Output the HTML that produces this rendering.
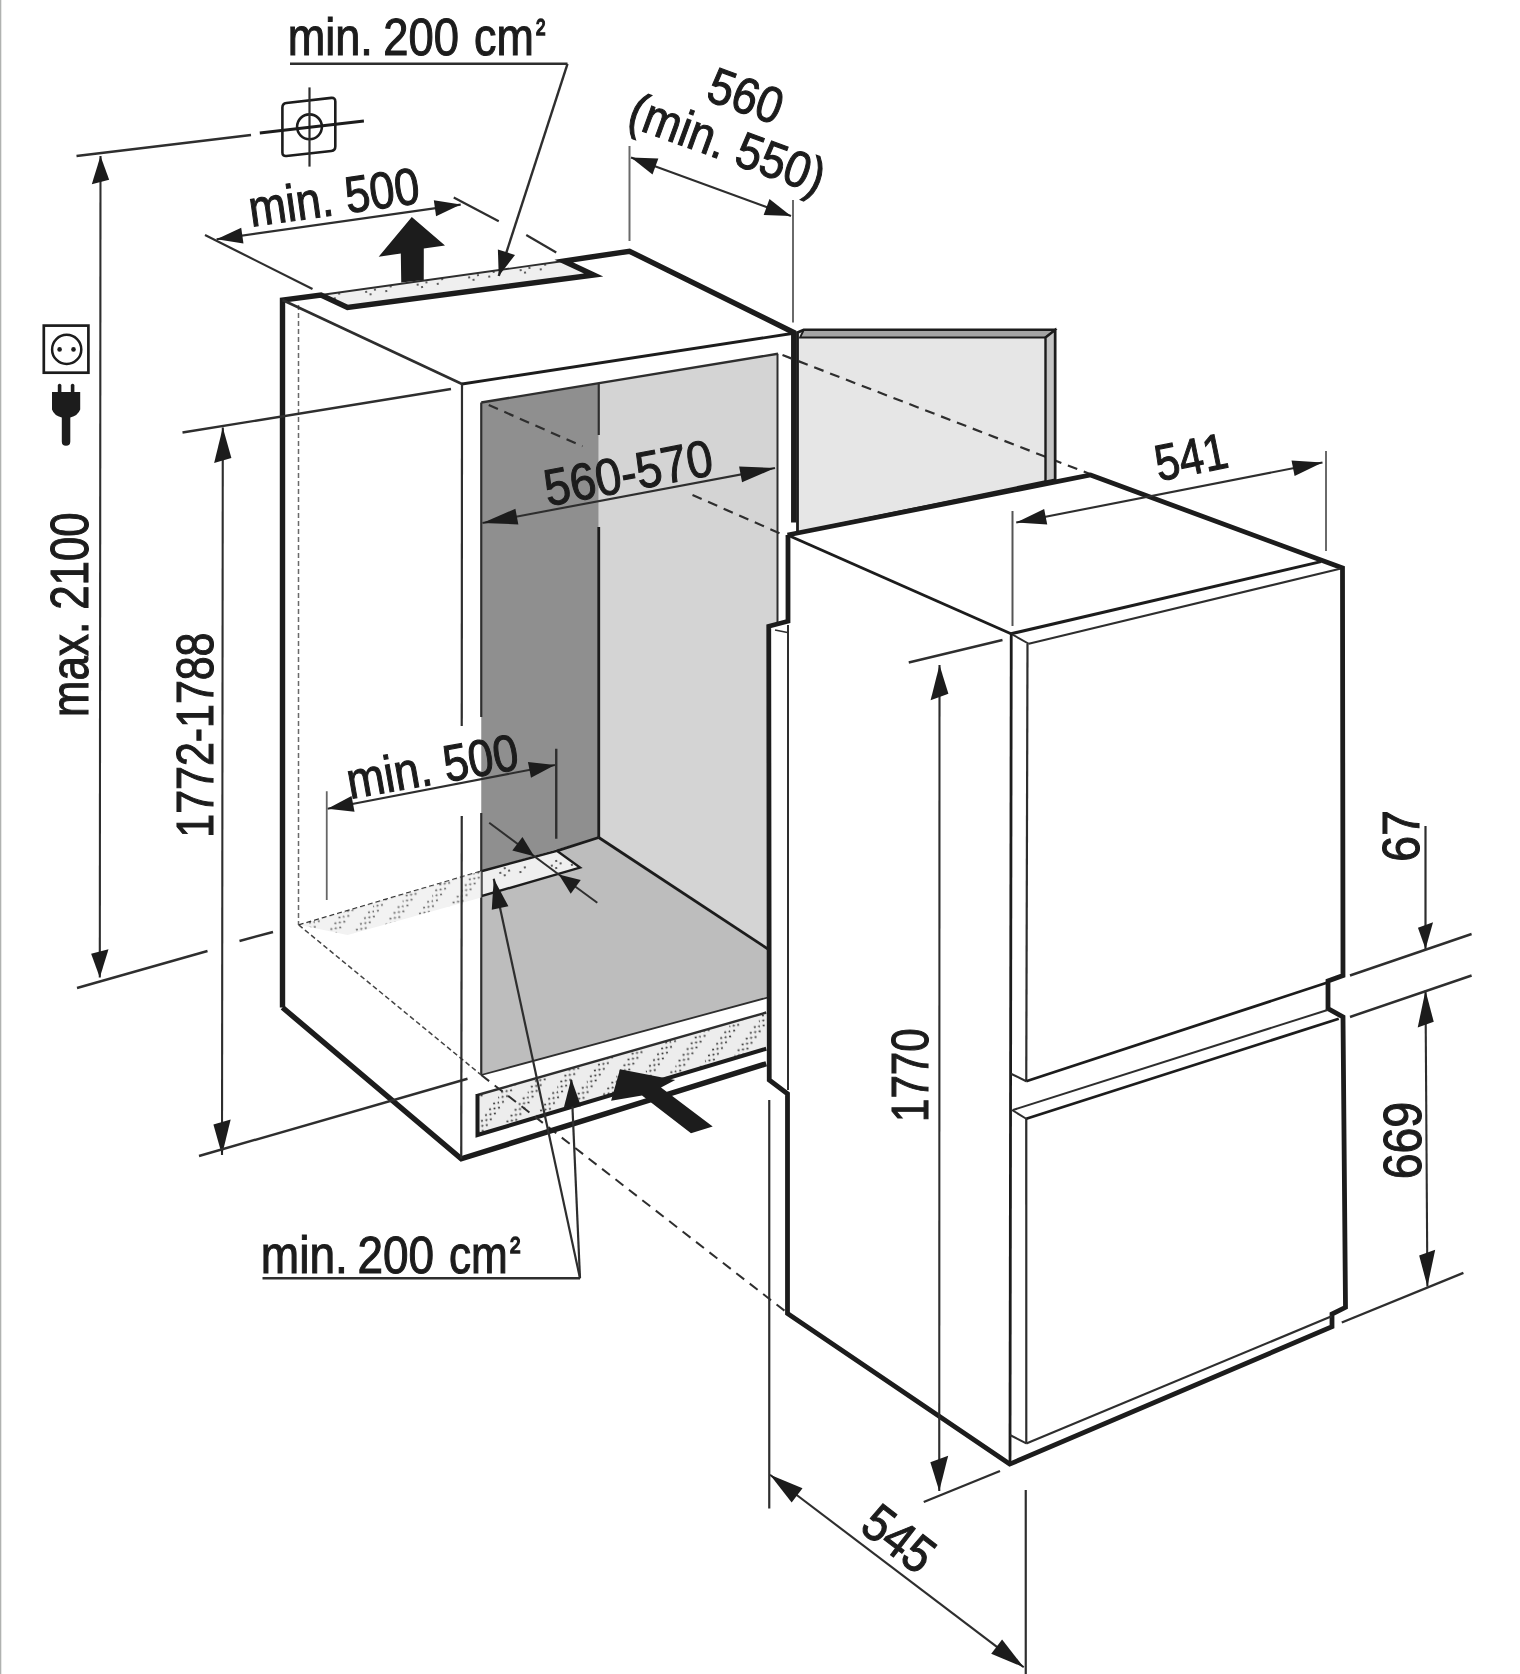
<!DOCTYPE html>
<html><head><meta charset="utf-8"><style>
html,body{margin:0;padding:0;background:#fff;}
svg{display:block;will-change:transform;}
text{font-family:"Liberation Sans",sans-serif;fill:#1c1c1c;}
</style></head><body>
<svg width="1520" height="1674" viewBox="0 0 1520 1674">
<rect x="0" y="0" width="1.3" height="1674" fill="#b0b2b0"/>
<defs><pattern id="dots" patternUnits="userSpaceOnUse" width="30" height="30" patternTransform="rotate(-10)"><rect width="30" height="30" fill="#ededed"/><g fill="#3a3a3a"><circle cx="0" cy="27.5" r="1.05"/><circle cx="5" cy="22.5" r="1.05"/><circle cx="10" cy="17.5" r="1.05"/><circle cx="15" cy="12.5" r="1.05"/><circle cx="20" cy="7.5" r="1.05"/><circle cx="25" cy="2.5" r="1.05"/><circle cx="4.5" cy="27.5" r="1.05"/><circle cx="9.5" cy="22.5" r="1.05"/><circle cx="14.5" cy="17.5" r="1.05"/><circle cx="19.5" cy="12.5" r="1.05"/><circle cx="24.5" cy="7.5" r="1.05"/><circle cx="29.5" cy="2.5" r="1.05"/><circle cx="9" cy="27.5" r="1.05"/><circle cx="14" cy="22.5" r="1.05"/><circle cx="19" cy="17.5" r="1.05"/><circle cx="24" cy="12.5" r="1.05"/><circle cx="29" cy="7.5" r="1.05"/><circle cx="4" cy="2.5" r="1.05"/></g></pattern><pattern id="dots2" patternUnits="userSpaceOnUse" width="52" height="22" patternTransform="rotate(-8)"><rect width="52" height="22" fill="#efefef"/><g fill="#3a3a3a"><circle cx="10" cy="10" r="1.1"/><circle cx="15" cy="6" r="1.1"/><circle cx="14" cy="13" r="1.1"/><circle cx="19" cy="9" r="1.1"/><circle cx="30" cy="12" r="1.1"/><circle cx="35" cy="8" r="1.1"/></g></pattern></defs>
<polygon points="481.25,402.5 598.75,383.75 598.75,837.5 481.25,871.25" fill="#8f8f8f" stroke="none" stroke-width="0" stroke-linejoin="miter"/>
<polygon points="598.75,383.75 777.5,353.75 777.5,960 598.75,837.5" fill="#d4d4d4" stroke="none" stroke-width="0" stroke-linejoin="miter"/>
<polygon points="481.25,871.25 598.75,837.5 777.5,955 777.5,995 481.25,1075" fill="#bdbdbd" stroke="none" stroke-width="0" stroke-linejoin="miter"/>
<polygon points="481.25,871.25 556.9,850.8 580,867.6 481.25,896.2" fill="url(#dots2)" stroke="#1c1c1c" stroke-width="2.4" stroke-linejoin="miter"/>
<line x1="598.75" y1="383.75" x2="598.75" y2="435" stroke="#2e2e2e" stroke-width="2.2" stroke-linecap="butt"/>
<line x1="598.75" y1="527" x2="598.75" y2="837.5" stroke="#1c1c1c" stroke-width="2.8" stroke-linecap="butt"/>
<line x1="598.75" y1="837.5" x2="777" y2="955" stroke="#1c1c1c" stroke-width="2.8" stroke-linecap="butt"/>
<line x1="556.9" y1="850.8" x2="598.75" y2="837.5" stroke="#1c1c1c" stroke-width="2.8" stroke-linecap="butt"/>
<line x1="481.25" y1="1075" x2="777" y2="995" stroke="#2e2e2e" stroke-width="1.8" stroke-linecap="butt"/>
<line x1="481.25" y1="402.5" x2="778" y2="353.75" stroke="#2e2e2e" stroke-width="2.4" stroke-linecap="butt"/>
<line x1="481.25" y1="402.5" x2="481.25" y2="717" stroke="#2e2e2e" stroke-width="2.2" stroke-linecap="butt"/>
<line x1="481.25" y1="813" x2="481.25" y2="1075" stroke="#2e2e2e" stroke-width="2.2" stroke-linecap="butt"/>
<line x1="777.5" y1="353.75" x2="777.5" y2="626" stroke="#2e2e2e" stroke-width="2" stroke-linecap="butt"/>
<line x1="298.5" y1="305" x2="298.5" y2="925" stroke="#6a6a6a" stroke-width="1.5" stroke-linecap="butt" stroke-dasharray="5 3"/>
<line x1="298.75" y1="925" x2="481.25" y2="871.25" stroke="#2e2e2e" stroke-width="1.6" stroke-linecap="butt" stroke-dasharray="5 3"/>
<polygon points="300,925 481.25,871.25 481.25,897.5 347.5,935" fill="url(#dots)" stroke="none" stroke-width="0" stroke-linejoin="miter" fill-opacity="0.75"/>
<line x1="488.75" y1="405" x2="582.5" y2="446.25" stroke="#2e2e2e" stroke-width="2.2" stroke-linecap="butt" stroke-dasharray="10 7"/>
<line x1="692.5" y1="495" x2="786" y2="536" stroke="#2e2e2e" stroke-width="2.2" stroke-linecap="butt" stroke-dasharray="10 7"/>
<polygon points="466,1095 477.5,1095 766.25,1012.5 766.25,1048.75 477.5,1135" fill="none" stroke="none" stroke-width="0" stroke-linejoin="miter"/>
<polygon points="477.5,1095 766.25,1012.5 766.25,1048.75 477.5,1135" fill="url(#dots)" stroke="none" stroke-width="0" stroke-linejoin="miter"/>
<line x1="766.25" y1="1012.5" x2="477.5" y2="1095" stroke="#2e2e2e" stroke-width="2.4" stroke-linecap="butt"/>
<polyline points="477.5,1094 477.5,1135 766.25,1048.75" fill="none" stroke="#1c1c1c" stroke-width="4" stroke-linejoin="miter" stroke-linecap="butt"/>
<line x1="298.75" y1="925" x2="481.25" y2="1075" stroke="#444" stroke-width="1.5" stroke-linecap="butt" stroke-dasharray="5 3"/>
<line x1="481.25" y1="1075" x2="787.5" y2="1313" stroke="#2e2e2e" stroke-width="2" stroke-linecap="butt" stroke-dasharray="10 7"/>
<polygon points="321,295 563.75,261 593.75,275 347.5,307.5" fill="url(#dots2)" stroke="none" stroke-width="0" stroke-linejoin="miter"/>
<line x1="321" y1="295" x2="563.75" y2="261" stroke="#2e2e2e" stroke-width="1.8" stroke-linecap="butt"/>
<polyline points="282.5,1007.5 282.5,300 321,295 347.5,307.5 593.75,275 563.75,261 629.5,251.25 793.75,332.5 793.75,522.5" fill="none" stroke="#1c1c1c" stroke-width="5.4" stroke-linejoin="miter" stroke-linecap="butt"/>
<polyline points="282.5,1007.5 461.25,1158.75 766.25,1063.75" fill="none" stroke="#1c1c1c" stroke-width="5.4" stroke-linejoin="miter" stroke-linecap="butt"/>
<line x1="282.5" y1="300" x2="462" y2="384" stroke="#2e2e2e" stroke-width="2.6" stroke-linecap="butt"/>
<line x1="462" y1="384" x2="792" y2="333.5" stroke="#1c1c1c" stroke-width="2.8" stroke-linecap="butt"/>
<line x1="462" y1="384" x2="461.75" y2="726" stroke="#2e2e2e" stroke-width="2.2" stroke-linecap="butt"/>
<line x1="461.75" y1="816" x2="461.25" y2="1158.75" stroke="#2e2e2e" stroke-width="2.2" stroke-linecap="butt"/>
<polygon points="797.5,332.5 803.75,330 1055,330 1055,479.7 797.5,533" fill="#e6e6e6" stroke="#1c1c1c" stroke-width="2.8" stroke-linejoin="miter"/>
<line x1="782.5" y1="355" x2="1090" y2="474" stroke="#2e2e2e" stroke-width="2.2" stroke-linecap="butt" stroke-dasharray="10 7"/>
<polygon points="803.75,330 1055,330 1045.5,337.5 800,337.5" fill="#a4a4a4" stroke="#1c1c1c" stroke-width="1.8" stroke-linejoin="miter"/>
<polygon points="1045.5,337.5 1055,330 1055,479.7 1045.5,481.6" fill="#c4c4c4" stroke="#1c1c1c" stroke-width="2.4" stroke-linejoin="miter"/>
<polygon points="787.5,535 1090.5,475 1342.5,568 1343,975.5 1328,981 1328,1008.6 1343,1017 1345.5,1307.3 1332,1314 1332,1326.7 1009.7,1464.1 787.5,1313.5 787.5,1093.75 769.25,1080 768.75,626.25 788,621.25" fill="#ffffff" stroke="none" stroke-width="0" stroke-linejoin="miter"/>
<polyline points="787.5,535 1090.5,475 1342.5,568 1343,975.5 1328,981 1328,1008.6 1343,1017 1345.5,1307.3 1332,1314 1332,1326.7 1009.7,1464.1 787.5,1313.5 787.5,1093.75 769.25,1080 768.75,626.25 788,621.25 788,535" fill="none" stroke="#1c1c1c" stroke-width="4.8" stroke-linejoin="miter" stroke-linecap="butt"/>
<line x1="787.5" y1="535" x2="1011" y2="633.75" stroke="#1c1c1c" stroke-width="3" stroke-linecap="butt"/>
<line x1="1011" y1="633.75" x2="1321" y2="561.6" stroke="#1c1c1c" stroke-width="3" stroke-linecap="butt"/>
<line x1="1028.75" y1="643.75" x2="1340" y2="568.75" stroke="#2e2e2e" stroke-width="2" stroke-linecap="butt"/>
<line x1="1011" y1="633.75" x2="1028.75" y2="643.75" stroke="#2e2e2e" stroke-width="2" stroke-linecap="butt"/>
<line x1="1011.25" y1="634" x2="1010" y2="1464" stroke="#1c1c1c" stroke-width="2.8" stroke-linecap="butt"/>
<line x1="1027.5" y1="643.75" x2="1026.25" y2="1081.25" stroke="#2e2e2e" stroke-width="2.2" stroke-linecap="butt"/>
<line x1="1026.25" y1="1118.75" x2="1026.3" y2="1443.4" stroke="#2e2e2e" stroke-width="2.2" stroke-linecap="butt"/>
<line x1="1011" y1="1073.75" x2="1026.25" y2="1081.25" stroke="#2e2e2e" stroke-width="2" stroke-linecap="butt"/>
<line x1="1026.25" y1="1081.25" x2="1327.5" y2="982.5" stroke="#1c1c1c" stroke-width="2.8" stroke-linecap="butt"/>
<line x1="1013" y1="1110" x2="1327.5" y2="1010" stroke="#2e2e2e" stroke-width="2" stroke-linecap="butt"/>
<line x1="1026.25" y1="1118.75" x2="1338.75" y2="1018.75" stroke="#1c1c1c" stroke-width="2.8" stroke-linecap="butt"/>
<line x1="1012" y1="1110" x2="1026.25" y2="1118.75" stroke="#2e2e2e" stroke-width="2" stroke-linecap="butt"/>
<line x1="1026.3" y1="1443.4" x2="1331.6" y2="1316.3" stroke="#2e2e2e" stroke-width="2.2" stroke-linecap="butt"/>
<line x1="1010" y1="1435" x2="1026.3" y2="1443.4" stroke="#2e2e2e" stroke-width="2" stroke-linecap="butt"/>
<line x1="788" y1="625" x2="788" y2="1090" stroke="#2e2e2e" stroke-width="2" stroke-linecap="butt"/>
<line x1="775" y1="630" x2="787.5" y2="632.5" stroke="#2e2e2e" stroke-width="1.6" stroke-linecap="butt"/>
<polygon points="411.8,217.1 445,245.6 423.8,248.5 423.75,280 401.25,282.5 400.8,253.5 378.7,256.7" fill="#1c1c1c" stroke="none" stroke-width="0" stroke-linejoin="miter"/>
<polygon points="611.1,1100.8 620,1069.2 675.2,1080 661,1087.5 712.7,1126.4 691,1133.3 642,1095.5" fill="#1c1c1c" stroke="none" stroke-width="0" stroke-linejoin="miter"/>
<line x1="100.5" y1="156" x2="99.8" y2="977.5" stroke="#2e2e2e" stroke-width="2.1" stroke-linecap="butt"/>
<polygon points="100.5,156 109.17,179.65 91.79,184.35" fill="#1c1c1c" stroke="none" stroke-width="0" stroke-linejoin="miter"/>
<polygon points="99.8,977.5 108.51,949.15 91.13,953.85" fill="#1c1c1c" stroke="none" stroke-width="0" stroke-linejoin="miter"/>
<line x1="76.5" y1="156" x2="251" y2="135" stroke="#2e2e2e" stroke-width="2.4" stroke-linecap="butt"/>
<line x1="77" y1="988" x2="207.5" y2="951" stroke="#2e2e2e" stroke-width="2.4" stroke-linecap="butt"/>
<line x1="239.5" y1="941" x2="273" y2="932" stroke="#2e2e2e" stroke-width="2.4" stroke-linecap="butt"/>
<line x1="222.8" y1="427.5" x2="222" y2="1155" stroke="#2e2e2e" stroke-width="2.1" stroke-linecap="butt"/>
<polygon points="222.8,427.5 231.38,457.91 214.14,463.09" fill="#1c1c1c" stroke="none" stroke-width="0" stroke-linejoin="miter"/>
<polygon points="222,1155 230.66,1119.41 213.42,1124.59" fill="#1c1c1c" stroke="none" stroke-width="0" stroke-linejoin="miter"/>
<line x1="182.5" y1="432.5" x2="451" y2="389" stroke="#2e2e2e" stroke-width="2.4" stroke-linecap="butt"/>
<line x1="199" y1="1156" x2="467.5" y2="1078.75" stroke="#2e2e2e" stroke-width="2.4" stroke-linecap="butt"/>
<line x1="216.6" y1="239.2" x2="460.7" y2="204.6" stroke="#2e2e2e" stroke-width="2.1" stroke-linecap="butt"/>
<polygon points="216.6,239.2 243.47,243.47 241.22,227.63" fill="#1c1c1c" stroke="none" stroke-width="0" stroke-linejoin="miter"/>
<polygon points="460.7,204.6 433.83,200.33 436.08,216.17" fill="#1c1c1c" stroke="none" stroke-width="0" stroke-linejoin="miter"/>
<line x1="205" y1="235" x2="312.5" y2="289" stroke="#2e2e2e" stroke-width="2.2" stroke-linecap="butt"/>
<line x1="453.75" y1="197.5" x2="498.75" y2="221.25" stroke="#2e2e2e" stroke-width="2.2" stroke-linecap="butt"/>
<line x1="526.25" y1="235" x2="556.25" y2="252.5" stroke="#2e2e2e" stroke-width="2.2" stroke-linecap="butt"/>
<line x1="290" y1="63.8" x2="567.5" y2="63.8" stroke="#2e2e2e" stroke-width="2.6" stroke-linecap="butt"/>
<line x1="567.5" y1="63.8" x2="498.75" y2="276" stroke="#2e2e2e" stroke-width="2.4" stroke-linecap="butt"/>
<polygon points="498.75,276 515.02,254.99 497.89,249.44" fill="#1c1c1c" stroke="none" stroke-width="0" stroke-linejoin="miter"/>
<line x1="631" y1="157.5" x2="791" y2="216" stroke="#2e2e2e" stroke-width="2.1" stroke-linecap="butt"/>
<polygon points="631,157.5 652.5,174.41 658.34,158.45" fill="#1c1c1c" stroke="none" stroke-width="0" stroke-linejoin="miter"/>
<polygon points="791,216 769.5,199.09 763.66,215.05" fill="#1c1c1c" stroke="none" stroke-width="0" stroke-linejoin="miter"/>
<line x1="629.5" y1="146" x2="629.5" y2="241" stroke="#6a6a6a" stroke-width="2" stroke-linecap="butt"/>
<line x1="793" y1="200" x2="793" y2="322.5" stroke="#6a6a6a" stroke-width="2" stroke-linecap="butt"/>
<line x1="482.5" y1="523" x2="775" y2="468" stroke="#2e2e2e" stroke-width="2.1" stroke-linecap="butt"/>
<polygon points="482.5,523 518.38,524.39 515.42,508.67" fill="#1c1c1c" stroke="none" stroke-width="0" stroke-linejoin="miter"/>
<polygon points="775,468 739.12,466.61 742.08,482.33" fill="#1c1c1c" stroke="none" stroke-width="0" stroke-linejoin="miter"/>
<line x1="327.5" y1="808.75" x2="555" y2="765" stroke="#2e2e2e" stroke-width="2.1" stroke-linecap="butt"/>
<polygon points="327.5,808.75 354.54,811.7 351.52,795.98" fill="#1c1c1c" stroke="none" stroke-width="0" stroke-linejoin="miter"/>
<polygon points="555,765 527.96,762.05 530.98,777.77" fill="#1c1c1c" stroke="none" stroke-width="0" stroke-linejoin="miter"/>
<line x1="326.75" y1="791.25" x2="326.75" y2="900" stroke="#666" stroke-width="1.8" stroke-linecap="butt"/>
<line x1="556.25" y1="748.75" x2="556.25" y2="838.75" stroke="#2e2e2e" stroke-width="2.4" stroke-linecap="butt"/>
<line x1="489.2" y1="822.7" x2="558.8" y2="874.5" stroke="#2e2e2e" stroke-width="2" stroke-linecap="butt"/>
<polygon points="534.2,856.3 522.46,836.93 512.29,850.55" fill="#1c1c1c" stroke="none" stroke-width="0" stroke-linejoin="miter"/>
<line x1="597.3" y1="902.7" x2="558.8" y2="874.5" stroke="#2e2e2e" stroke-width="2" stroke-linecap="butt"/>
<polygon points="558.8,874.5 570.72,893.77 580.76,880.05" fill="#1c1c1c" stroke="none" stroke-width="0" stroke-linejoin="miter"/>
<line x1="262.5" y1="1278.2" x2="580" y2="1278.2" stroke="#2e2e2e" stroke-width="2.6" stroke-linecap="butt"/>
<line x1="580" y1="1278.2" x2="571.25" y2="1080" stroke="#2e2e2e" stroke-width="2.2" stroke-linecap="butt"/>
<polygon points="571.25,1078.75 563.99,1107.1 580.97,1106.35" fill="#1c1c1c" stroke="none" stroke-width="0" stroke-linejoin="miter"/>
<line x1="580" y1="1278.2" x2="493.75" y2="878.75" stroke="#2e2e2e" stroke-width="2.2" stroke-linecap="butt"/>
<polygon points="493.75,878.75 491.78,909.87 508.4,906.27" fill="#1c1c1c" stroke="none" stroke-width="0" stroke-linejoin="miter"/>
<line x1="939.5" y1="665" x2="939.25" y2="1491" stroke="#2e2e2e" stroke-width="2.1" stroke-linecap="butt"/>
<polygon points="939.5,665 948.4,693.7 930.58,700.3" fill="#1c1c1c" stroke="none" stroke-width="0" stroke-linejoin="miter"/>
<polygon points="939.25,1491 948.17,1455.7 930.35,1462.3" fill="#1c1c1c" stroke="none" stroke-width="0" stroke-linejoin="miter"/>
<line x1="908.75" y1="662.5" x2="1002.5" y2="640" stroke="#2e2e2e" stroke-width="2.4" stroke-linecap="butt"/>
<line x1="923.75" y1="1502" x2="1000" y2="1471" stroke="#2e2e2e" stroke-width="2.4" stroke-linecap="butt"/>
<line x1="1016.25" y1="522.5" x2="1322.5" y2="462.5" stroke="#2e2e2e" stroke-width="2.1" stroke-linecap="butt"/>
<polygon points="1016.25,522.5 1047.23,524.58 1044.15,508.88" fill="#1c1c1c" stroke="none" stroke-width="0" stroke-linejoin="miter"/>
<polygon points="1322.5,462.5 1291.52,460.42 1294.6,476.12" fill="#1c1c1c" stroke="none" stroke-width="0" stroke-linejoin="miter"/>
<line x1="1012.5" y1="511" x2="1012.5" y2="626" stroke="#555" stroke-width="2" stroke-linecap="butt"/>
<line x1="1326" y1="451" x2="1326" y2="551" stroke="#6a6a6a" stroke-width="2" stroke-linecap="butt"/>
<line x1="1425.5" y1="826" x2="1425.5" y2="949" stroke="#2e2e2e" stroke-width="2.2" stroke-linecap="butt"/>
<polygon points="1425.5,949 1433.05,922.36 1417.95,927.64" fill="#1c1c1c" stroke="none" stroke-width="0" stroke-linejoin="miter"/>
<line x1="1425.5" y1="990.6" x2="1427.4" y2="1286.6" stroke="#2e2e2e" stroke-width="2.1" stroke-linecap="butt"/>
<polygon points="1425.5,990.6 1433.74,1021.79 1417.7,1027.41" fill="#1c1c1c" stroke="none" stroke-width="0" stroke-linejoin="miter"/>
<polygon points="1427.4,1286.6 1435.2,1249.79 1419.16,1255.41" fill="#1c1c1c" stroke="none" stroke-width="0" stroke-linejoin="miter"/>
<line x1="1350" y1="975.5" x2="1471.6" y2="934" stroke="#2e2e2e" stroke-width="2.4" stroke-linecap="butt"/>
<line x1="1350" y1="1017" x2="1471.6" y2="975.5" stroke="#2e2e2e" stroke-width="2.4" stroke-linecap="butt"/>
<line x1="1341.8" y1="1322.5" x2="1463.4" y2="1272.8" stroke="#2e2e2e" stroke-width="2.4" stroke-linecap="butt"/>
<line x1="770" y1="1474.75" x2="1023.75" y2="1667.25" stroke="#2e2e2e" stroke-width="2.1" stroke-linecap="butt"/>
<polygon points="770,1474.75 791.65,1502.47 802.53,1488.13" fill="#1c1c1c" stroke="none" stroke-width="0" stroke-linejoin="miter"/>
<polygon points="1023.75,1667.25 1002.1,1639.53 991.22,1653.87" fill="#1c1c1c" stroke="none" stroke-width="0" stroke-linejoin="miter"/>
<line x1="769.25" y1="1100" x2="769.25" y2="1508.5" stroke="#2e2e2e" stroke-width="2.2" stroke-linecap="butt"/>
<line x1="1025.75" y1="1490" x2="1025.75" y2="1674" stroke="#2e2e2e" stroke-width="2.2" stroke-linecap="butt"/>
<path d="M282.4 107.5 Q282.4 103.5 286.4 103 L331.3 97.9 Q335.3 97.5 335.3 101.5 L335.3 146.5 Q335.3 150.5 331.3 151 L286.4 156 Q282.4 156.4 282.4 152.4 Z" fill="none" stroke="#1c1c1c" stroke-width="2.6"/>
<circle cx="309.5" cy="126.8" r="12.4" fill="none" stroke="#1c1c1c" stroke-width="2.6"/>
<line x1="309.5" y1="87.4" x2="309.5" y2="166.6" stroke="#2e2e2e" stroke-width="2.2" stroke-linecap="butt"/>
<line x1="259.8" y1="133" x2="363.9" y2="121" stroke="#1c1c1c" stroke-width="2.8" stroke-linecap="butt"/>
<rect x="43.8" y="325.6" width="44.6" height="47.1" fill="none" stroke="#1c1c1c" stroke-width="2.7"/>
<circle cx="66.7" cy="349.4" r="14.6" fill="none" stroke="#1c1c1c" stroke-width="2.5"/>
<circle cx="59.6" cy="349.4" r="2.3" fill="#1c1c1c"/>
<circle cx="73.5" cy="349.4" r="2.3" fill="#1c1c1c"/>
<path d="M57.8 393 L57.8 385 Q59.6 382.5 61.4 385 L61.4 393 Z M70.8 393 L70.8 385 Q72.6 382.5 74.4 385 L74.4 393 Z" fill="#1c1c1c"/>
<path d="M52 392 L80.2 392 L80.2 409.5 Q78 415.5 70.3 417.5 L70.3 441.5 Q70.3 445.8 66 445.8 Q61.8 445.8 61.8 441.5 L61.8 417.5 Q54 415.5 52 409.5 Z" fill="#1c1c1c"/>
<text transform="translate(290.7 54.8) rotate(0)" x="-2.99" y="0" font-size="51.55" textLength="85.1" lengthAdjust="spacingAndGlyphs" stroke="#1c1c1c" stroke-width="1.1">min.</text>
<text transform="translate(385.6 54.8) rotate(0)" x="-2.28" y="0" font-size="51.55" textLength="75.65" lengthAdjust="spacingAndGlyphs" stroke="#1c1c1c" stroke-width="1.1">200</text>
<text transform="translate(475.9 54.8) rotate(0)" x="-1.9" y="0" font-size="51.55" textLength="59.76" lengthAdjust="spacingAndGlyphs" stroke="#1c1c1c" stroke-width="1.1">cm</text>
<text x="535.93" y="46.13" font-size="39.38" textLength="9.4" lengthAdjust="spacingAndGlyphs" stroke="#1c1c1c" stroke-width="1.3">²</text>
<text transform="translate(263.9 1272.6) rotate(0)" x="-3.06" y="0" font-size="51.55" textLength="87.07" lengthAdjust="spacingAndGlyphs" stroke="#1c1c1c" stroke-width="1.1">min.</text>
<text transform="translate(359.7 1272.6) rotate(0)" x="-2.31" y="0" font-size="51.55" textLength="76.6" lengthAdjust="spacingAndGlyphs" stroke="#1c1c1c" stroke-width="1.1">200</text>
<text transform="translate(450.9 1272.6) rotate(0)" x="-1.87" y="0" font-size="51.55" textLength="58.78" lengthAdjust="spacingAndGlyphs" stroke="#1c1c1c" stroke-width="1.1">cm</text>
<text x="509.97" y="1263.93" font-size="39.38" textLength="10.42" lengthAdjust="spacingAndGlyphs" stroke="#1c1c1c" stroke-width="1.3">²</text>
<text transform="translate(88 714) rotate(-90)" x="-2.91" y="0" font-size="53.67" textLength="204.62" lengthAdjust="spacingAndGlyphs" stroke="#1c1c1c" stroke-width="1.1">max. 2100</text>
<text transform="translate(213.1 834.4) rotate(-90)" x="-3.27" y="0" font-size="51.55" textLength="205.13" lengthAdjust="spacingAndGlyphs" stroke="#1c1c1c" stroke-width="1.1">1772-1788</text>
<text transform="translate(927.75 1118.75) rotate(-90)" x="-3.2" y="0" font-size="52.26" textLength="93.6" lengthAdjust="spacingAndGlyphs" stroke="#1c1c1c" stroke-width="1.1">1770</text>
<text transform="translate(1419 859.4) rotate(-90)" x="-2.36" y="0" font-size="52.26" textLength="51.7" lengthAdjust="spacingAndGlyphs" stroke="#1c1c1c" stroke-width="1.1">67</text>
<text transform="translate(1420.5 1177) rotate(-90)" x="-2.36" y="0" font-size="52.97" textLength="77.56" lengthAdjust="spacingAndGlyphs" stroke="#1c1c1c" stroke-width="1.1">669</text>
<text transform="translate(254.3 226.3) rotate(-8)" x="-2.97" y="0" font-size="51.55" textLength="171.72" lengthAdjust="spacingAndGlyphs" stroke="#1c1c1c" stroke-width="1.1">min. 500</text>
<text transform="translate(353 798.5) rotate(-10)" x="-3" y="0" font-size="51.55" textLength="173.26" lengthAdjust="spacingAndGlyphs" stroke="#1c1c1c" stroke-width="1.1">min. 500</text>
<text transform="translate(549.7 506) rotate(-10.8)" x="-1.86" y="0" font-size="51.55" textLength="170.68" lengthAdjust="spacingAndGlyphs" stroke="#1c1c1c" stroke-width="1.1">560-570</text>
<text transform="translate(706 100) rotate(20)" x="-1.81" y="0" font-size="50.85" textLength="75.58" lengthAdjust="spacingAndGlyphs" stroke="#1c1c1c" stroke-width="1.1">560</text>
<text transform="translate(628 126) rotate(20)" x="-2.82" y="0" font-size="50.85" textLength="204.64" lengthAdjust="spacingAndGlyphs" stroke="#1c1c1c" stroke-width="1.1">(min. 550)</text>
<text transform="translate(1160.5 481) rotate(-11.5)" x="-1.75" y="0" font-size="50.85" textLength="72.88" lengthAdjust="spacingAndGlyphs" stroke="#1c1c1c" stroke-width="1.1">541</text>
<text transform="translate(859.5 1531) rotate(37.5)" x="-1.82" y="0" font-size="52.26" textLength="75.72" lengthAdjust="spacingAndGlyphs" stroke="#1c1c1c" stroke-width="1.1">545</text>
</svg></body></html>
